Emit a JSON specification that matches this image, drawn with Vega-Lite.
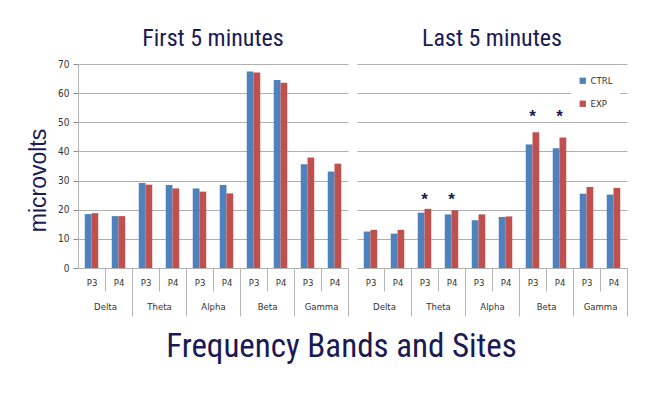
{
  "$schema": "https://vega.github.io/schema/vega-lite/v6.json",
  "padding": {"left": 27, "top": 27, "right": 5, "bottom": 5},
  "background": "white",
  "config": {"view": {"stroke": null}},
  "data": {
    "values": [
      {"period": "First 5 minutes", "key": "Delta P3 CTRL", "group": "CTRL", "value": 18.5},
      {"period": "First 5 minutes", "key": "Delta P3 EXP", "group": "EXP", "value": 18.8},
      {"period": "First 5 minutes", "key": "Delta P4 CTRL", "group": "CTRL", "value": 17.8},
      {"period": "First 5 minutes", "key": "Delta P4 EXP", "group": "EXP", "value": 17.8},
      {"period": "First 5 minutes", "key": "Theta P3 CTRL", "group": "CTRL", "value": 29.2},
      {"period": "First 5 minutes", "key": "Theta P3 EXP", "group": "EXP", "value": 28.6},
      {"period": "First 5 minutes", "key": "Theta P4 CTRL", "group": "CTRL", "value": 28.5},
      {"period": "First 5 minutes", "key": "Theta P4 EXP", "group": "EXP", "value": 27.3},
      {"period": "First 5 minutes", "key": "Alpha P3 CTRL", "group": "CTRL", "value": 27.3},
      {"period": "First 5 minutes", "key": "Alpha P3 EXP", "group": "EXP", "value": 26.2},
      {"period": "First 5 minutes", "key": "Alpha P4 CTRL", "group": "CTRL", "value": 28.5},
      {"period": "First 5 minutes", "key": "Alpha P4 EXP", "group": "EXP", "value": 25.6},
      {"period": "First 5 minutes", "key": "Beta P3 CTRL", "group": "CTRL", "value": 67.4},
      {"period": "First 5 minutes", "key": "Beta P3 EXP", "group": "EXP", "value": 67.1},
      {"period": "First 5 minutes", "key": "Beta P4 CTRL", "group": "CTRL", "value": 64.5},
      {"period": "First 5 minutes", "key": "Beta P4 EXP", "group": "EXP", "value": 63.6},
      {"period": "First 5 minutes", "key": "Gamma P3 CTRL", "group": "CTRL", "value": 35.6},
      {"period": "First 5 minutes", "key": "Gamma P3 EXP", "group": "EXP", "value": 37.9},
      {"period": "First 5 minutes", "key": "Gamma P4 CTRL", "group": "CTRL", "value": 33.1},
      {"period": "First 5 minutes", "key": "Gamma P4 EXP", "group": "EXP", "value": 35.8},
      {"period": "Last 5 minutes", "key": "Delta P3 CTRL", "group": "CTRL", "value": 12.5},
      {"period": "Last 5 minutes", "key": "Delta P3 EXP", "group": "EXP", "value": 13.1},
      {"period": "Last 5 minutes", "key": "Delta P4 CTRL", "group": "CTRL", "value": 11.8},
      {"period": "Last 5 minutes", "key": "Delta P4 EXP", "group": "EXP", "value": 13.1},
      {"period": "Last 5 minutes", "key": "Theta P3 CTRL", "group": "CTRL", "value": 19.0},
      {"period": "Last 5 minutes", "key": "Theta P3 EXP", "group": "EXP", "value": 20.3},
      {"period": "Last 5 minutes", "key": "Theta P4 CTRL", "group": "CTRL", "value": 18.4},
      {"period": "Last 5 minutes", "key": "Theta P4 EXP", "group": "EXP", "value": 19.8},
      {"period": "Last 5 minutes", "key": "Alpha P3 CTRL", "group": "CTRL", "value": 16.4},
      {"period": "Last 5 minutes", "key": "Alpha P3 EXP", "group": "EXP", "value": 18.4},
      {"period": "Last 5 minutes", "key": "Alpha P4 CTRL", "group": "CTRL", "value": 17.5},
      {"period": "Last 5 minutes", "key": "Alpha P4 EXP", "group": "EXP", "value": 17.7},
      {"period": "Last 5 minutes", "key": "Beta P3 CTRL", "group": "CTRL", "value": 42.4},
      {"period": "Last 5 minutes", "key": "Beta P3 EXP", "group": "EXP", "value": 46.6},
      {"period": "Last 5 minutes", "key": "Beta P4 CTRL", "group": "CTRL", "value": 41.1},
      {"period": "Last 5 minutes", "key": "Beta P4 EXP", "group": "EXP", "value": 44.8},
      {"period": "Last 5 minutes", "key": "Gamma P3 CTRL", "group": "CTRL", "value": 25.5},
      {"period": "Last 5 minutes", "key": "Gamma P3 EXP", "group": "EXP", "value": 27.8},
      {"period": "Last 5 minutes", "key": "Gamma P4 CTRL", "group": "CTRL", "value": 25.2},
      {"period": "Last 5 minutes", "key": "Gamma P4 EXP", "group": "EXP", "value": 27.5},
      {"period": "Last 5 minutes", "key": "Theta P3 CTRL", "kind": "star", "value": 23.3},
      {"period": "Last 5 minutes", "key": "Theta P4 CTRL", "kind": "star", "value": 23.3},
      {"period": "Last 5 minutes", "key": "Beta P3 CTRL", "kind": "star", "value": 51.8},
      {"period": "Last 5 minutes", "key": "Beta P4 CTRL", "kind": "star", "value": 51.8}
    ]
  },
  "title": {
    "text": "Frequency Bands and Sites",
    "orient": "bottom",
    "anchor": "middle",
    "font": "Roboto Condensed, DejaVu Sans Condensed, Liberation Sans, sans-serif",
    "fontSize": 33,
    "fontWeight": "normal",
    "color": "#1B1A55",
    "offset": 14,
    "dx": 14
  },
  "spacing": {"column": 9},
  "facet": {
    "column": {"field": "period", "type": "nominal", "sort": ["First 5 minutes", "Last 5 minutes"],
      "header": {"title": null, "labelFont": "Roboto Condensed, DejaVu Sans Condensed, Liberation Sans, sans-serif", "labelFontSize": 24, "labelColor": "#1B1A55", "labelPadding": 13}}
  },
  "spec": {
    "width": 270,
    "height": 204,
    "encoding": {
      "x": {"field": "key", "type": "nominal", "title": null,
        "scale": {"domain": ["Delta P3 pad1", "Delta P3 CTRL", "Delta P3 EXP", "Delta P3 pad2", "Delta P4 pad1", "Delta P4 CTRL", "Delta P4 EXP", "Delta P4 pad2", "Theta P3 pad1", "Theta P3 CTRL", "Theta P3 EXP", "Theta P3 pad2", "Theta P4 pad1", "Theta P4 CTRL", "Theta P4 EXP", "Theta P4 pad2", "Alpha P3 pad1", "Alpha P3 CTRL", "Alpha P3 EXP", "Alpha P3 pad2", "Alpha P4 pad1", "Alpha P4 CTRL", "Alpha P4 EXP", "Alpha P4 pad2", "Beta P3 pad1", "Beta P3 CTRL", "Beta P3 EXP", "Beta P3 pad2", "Beta P4 pad1", "Beta P4 CTRL", "Beta P4 EXP", "Beta P4 pad2", "Gamma P3 pad1", "Gamma P3 CTRL", "Gamma P3 EXP", "Gamma P3 pad2", "Gamma P4 pad1", "Gamma P4 CTRL", "Gamma P4 EXP", "Gamma P4 pad2"], "paddingInner": 0, "paddingOuter": 0},
        "axis": {
          "labelExpr": "test(/CTRL/, datum.value) ? split(datum.value, ' ')[1] : (test(/P3 pad2/, datum.value) ? ['', split(datum.value, ' ')[0]] : '')",
          "labelOverlap": false, "labelOffset": 3.4, "labelAngle": 0, "labelLineHeight": 24,
          "tickBand": "extent", "tickSize": 48, "tickColor": "#b5b5b5",
          "tickOpacity": {"condition": {"test": "test(/pad2/, datum.value)", "value": 1}, "value": 0},
          "tickDash": {"condition": {"test": "test(/P3 pad2/, datum.value)", "value": [23, 60]}, "value": []},
          "domainColor": "#b5b5b5", "labelPadding": -39,
          "labelFont": "DejaVu Sans Condensed, DejaVu Sans", "labelFontSize": 9.5, "labelColor": "#333333", "grid": false}},
      "y": {"field": "value", "type": "quantitative", "title": "microvolts",
        "scale": {"domain": [0, 70], "nice": false},
        "axis": {"values": [0, 10, 20, 30, 40, 50, 60, 70], "tickCount": 12, "labelOverlap": false, "tickSize": 5, "tickColor": "#8c8c8c", "domainColor": "#b5b5b5", "gridColor": "#b0b0b0", "labelFont": "DejaVu Sans Condensed, DejaVu Sans", "labelFontSize": 10, "labelColor": "#333333", "labelPadding": 4, "titleFont": "Liberation Sans", "titleFontSize": 23, "titleFontWeight": "normal", "titleColor": "#1B1A55", "titlePadding": 7, "titleY": 116}}
    },
    "layer": [
      {
        "transform": [{"filter": "datum.kind !== 'star'"}],
        "mark": {"type": "bar"},
        "encoding": {
          "color": {"field": "group", "type": "nominal", "scale": {"domain": ["CTRL", "EXP"], "range": ["#4F81BD", "#C0504D"]},
            "legend": {"title": null, "orient": "none", "legendX": 493, "legendY": 5, "padding": 7, "fillColor": "white", "symbolType": "square", "symbolSize": 40, "symbolStrokeWidth": 0, "rowPadding": 12, "labelFont": "DejaVu Sans Condensed, DejaVu Sans", "labelFontSize": 9.5, "labelColor": "#333333", "labelOffset": 3}}
        }
      },
      {
        "transform": [{"filter": "datum.kind === 'star'"}],
        "mark": {"type": "text", "text": "*", "fontSize": 17, "fontWeight": "bold", "color": "#1B1A55", "baseline": "middle", "font": "Liberation Sans"},
        "encoding": {
          "x": {"field": "key", "type": "nominal", "bandPosition": 1}
        }
      }
    ]
  }
}
